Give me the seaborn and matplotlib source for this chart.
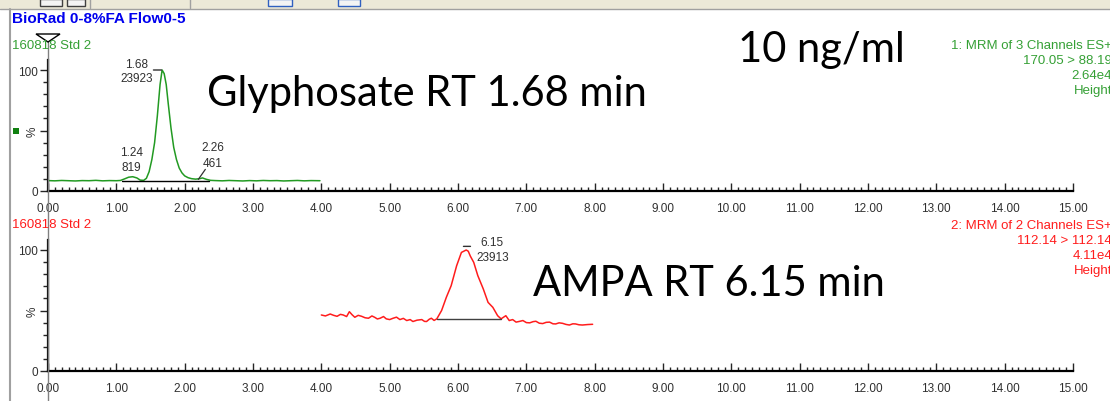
"""Glyphosate / AMPA MRM chromatograms (MassLynx-style screenshot), 10 ng/ml standard."""

import matplotlib
matplotlib.use('Agg')
import matplotlib.pyplot as plt
from matplotlib.patches import Rectangle, Polygon
from matplotlib.lines import Line2D
from matplotlib.ticker import MultipleLocator
import seaborn as sns

# Channel 1: glyphosate trace (time in min, relative intensity %)
gly_t = [0.00, 0.10, 0.20, 0.30, 0.40, 0.50, 0.60, 0.70, 0.80, 0.90,
         1.00, 1.06, 1.12, 1.18, 1.24, 1.30, 1.35, 1.40, 1.44, 1.48,
         1.52, 1.56, 1.60, 1.64, 1.67, 1.70, 1.73, 1.76, 1.80, 1.84,
         1.88, 1.92, 1.96, 2.00, 2.05, 2.10, 2.16, 2.22, 2.26, 2.32,
         2.38, 2.45, 2.55, 2.65, 2.75, 2.85, 2.95, 3.05, 3.15, 3.25,
         3.35, 3.45, 3.55, 3.65, 3.75, 3.85, 3.98]
gly_y = [8.6, 8.4, 8.7, 8.5, 8.3, 8.6, 8.5, 8.8, 8.4, 8.6,
         8.5, 8.7, 10.0, 11.4, 11.8, 10.8, 9.0, 8.8, 10.5, 16.0,
         26.0, 40.0, 62.0, 88.0, 100.0, 97.0, 88.0, 72.0, 52.0, 36.0,
         26.0, 19.0, 15.0, 12.5, 11.0, 10.2, 9.8, 10.2, 10.8, 9.6,
         8.8, 8.6, 8.4, 8.7, 8.5, 8.3, 8.6, 8.4, 8.7, 8.5,
         8.6, 8.3, 8.5, 8.7, 8.4, 8.6, 8.5]
gly_base_t = [1.08, 2.36]
gly_base_y = [8.4, 8.4]
gly_peak_t = [1.24, 1.68, 2.26]
gly_peak_h = [11.8, 100.0, 10.8]
gly_peak_area = [819, 23923, 461]

# Channel 2: AMPA trace
ampa_t = [4.00, 4.06, 4.13, 4.18, 4.23, 4.28, 4.32, 4.37, 4.41, 4.45,
          4.49, 4.54, 4.59, 4.64, 4.69, 4.74, 4.78, 4.82, 4.86, 4.91,
          4.95, 5.00, 5.05, 5.10, 5.15, 5.20, 5.25, 5.30, 5.34, 5.40,
          5.47, 5.51, 5.54, 5.58, 5.61, 5.65, 5.69, 5.76, 5.83, 5.90,
          5.98, 6.05, 6.12, 6.15, 6.18, 6.23, 6.29, 6.37, 6.44, 6.51,
          6.58, 6.63, 6.70, 6.75, 6.80, 6.85, 6.90, 6.95, 7.00, 7.05,
          7.10, 7.14, 7.19, 7.24, 7.29, 7.34, 7.39, 7.43, 7.48, 7.53,
          7.58, 7.63, 7.68, 7.72, 7.77, 7.82, 7.90, 7.97]
ampa_y = [46.3, 45.5, 47.1, 46.0, 45.2, 46.8, 46.3, 45.0, 49.0, 46.5,
          44.4, 46.0, 45.2, 44.0, 43.6, 45.5, 44.4, 43.0, 43.6, 45.0,
          43.1, 42.5, 43.6, 44.5, 42.5, 43.5, 41.7, 42.5, 40.9, 42.0,
          42.5, 41.0, 40.9, 42.8, 43.6, 41.8, 43.1, 50.0, 61.0, 70.5,
          87.0, 98.0, 100.0, 99.0, 95.0, 89.8, 78.8, 67.8, 56.7, 52.6,
          45.7, 43.1, 45.7, 41.7, 42.5, 40.4, 41.0, 41.7, 40.0, 39.8,
          40.8, 41.1, 39.5, 39.2, 40.2, 40.4, 39.0, 38.9, 39.8, 39.4,
          38.5, 38.0, 39.0, 38.9, 38.2, 38.0, 38.4, 38.6]
ampa_base_t = [5.69, 6.63]
ampa_base_y = [43.1, 43.1]
ampa_peak_t = [6.15]
ampa_peak_h = [100.0]
ampa_peak_area = [23913]

GREEN = '#229a22'
GREEN_TXT = '#35a035'
RED = '#ff1c1c'
TXT = '#303030'

sns.set_theme(style='white')
plt.rcParams['font.family'] = ['Liberation Sans', 'DejaVu Sans']

W, H = 1110, 402
fig = plt.figure(figsize=(W / 100, H / 100), dpi=100, facecolor='white')


def fx(px):
    return px / W


def fy(py):
    return 1 - py / H


YMAX = 108
AX_H = 121 * YMAX / 100 / H
ax_top = fig.add_axes([fx(48), fy(192), fx(1073) - fx(48), AX_H])
ax_bot = fig.add_axes([fx(48), fy(372), fx(1073) - fx(48), AX_H])


def style(ax):
    ax.set_xlim(0, 15)
    ax.set_ylim(0, YMAX)
    ax.set_facecolor('none')
    for s in ['top', 'right']:
        ax.spines[s].set_visible(False)
    for s in ['left', 'bottom']:
        ax.spines[s].set_color('black')
        ax.spines[s].set_linewidth(1.6)
    ax.xaxis.set_major_locator(MultipleLocator(1))
    ax.xaxis.set_minor_locator(MultipleLocator(0.1))
    ax.xaxis.set_major_formatter('{x:.2f}')
    ax.set_yticks([0, 50, 100])
    ax.set_yticklabels(['0', '%', '100'])
    ax.yaxis.set_minor_locator(MultipleLocator(10))
    ax.tick_params(axis='x', which='major', bottom=True, direction='in', length=6,
                   width=1, labelsize=8.5, labelcolor=TXT, pad=8)
    ax.tick_params(axis='x', which='minor', bottom=True, direction='in', length=3, width=1)
    ax.tick_params(axis='y', which='major', left=True, direction='out', length=6,
                   width=1, labelsize=8.5, labelcolor=TXT, pad=1)
    ax.tick_params(axis='y', which='minor', left=True, direction='out', length=3.5, width=1)
    lab = ax.get_yticklabels()[1]
    lab.set_rotation(90)
    lab.set_va('center')
    ax.grid(False)


def peak_labels(ax, ts, hs, areas, offs, ha='center'):
    for t, h, a, (dx, dy1, dx2, dy2) in zip(ts, hs, areas, offs):
        ax.annotate(f'{t:.2f}', (t, h), xytext=(dx, dy1), textcoords='offset pixels',
                    ha=ha, va='center', fontsize=8.5, color=TXT)
        ax.annotate(f'{a}', (t, h), xytext=(dx2, dy2), textcoords='offset pixels',
                    ha=ha, va='center', fontsize=8.5, color=TXT)


# traces
sns.lineplot(x=gly_t, y=gly_y, ax=ax_top, color=GREEN, lw=1.1, sort=False, estimator=None)
ax_top.plot(gly_base_t, gly_base_y, color='black', lw=1)
sns.lineplot(x=ampa_t, y=ampa_y, ax=ax_bot, color=RED, lw=1.1, sort=False, estimator=None)
ax_bot.plot(ampa_base_t, ampa_base_y, color='#404040', lw=1)

for ax in (ax_top, ax_bot):
    style(ax)

peak_labels(ax_top, gly_peak_t, gly_peak_h, gly_peak_area,
            [(-1, 25, -1, 10), (-26, 6, -26, -8), (10, 31, 10, 15)])
peak_labels(ax_bot, ampa_peak_t, ampa_peak_h, ampa_peak_area,
            [(12, 8, 8, -7)], ha='left')

# small apex marks and leader for the 2.26 label
ax_top.annotate('', (1.66, 100), xytext=(-8, 0), textcoords='offset pixels',
                arrowprops=dict(arrowstyle='-', color=TXT, lw=1, shrinkA=0, shrinkB=0))
ax_top.annotate('', (2.20, 9.6), xytext=(7, 10), textcoords='offset pixels',
                arrowprops=dict(arrowstyle='-', color=TXT, lw=0.9, shrinkA=0, shrinkB=0))
ax_bot.annotate('', (6.08, 103), xytext=(7, 0), textcoords='offset pixels',
                arrowprops=dict(arrowstyle='-', color=TXT, lw=1, shrinkA=0, shrinkB=0))

# window chrome: toolbar strip, left frame, cursor
fig.patches.append(Rectangle((0, fy(10)), 1, 10 / H, transform=fig.transFigure,
                             facecolor='#ece9d8', edgecolor='none', zorder=0))
fig.lines.append(Line2D([0, 1], [fy(10), fy(10)], transform=fig.transFigure,
                        color='#a0a0a0', lw=1))
for x0, x1, ec in [(40, 62, '#404040'), (67, 85, '#404040'), (268, 292, '#3060c0'),
                   (338, 360, '#3060c0')]:
    fig.patches.append(Rectangle((fx(x0), fy(7)), (x1 - x0) / W, 7 / H,
                                 transform=fig.transFigure, facecolor='#f4f4f4',
                                 edgecolor=ec, lw=1))
for xs in (90, 190):
    fig.lines.append(Line2D([fx(xs), fx(xs)], [fy(0), fy(9)], transform=fig.transFigure,
                            color='#a0a0a0', lw=1))
fig.lines.append(Line2D([fx(10), fx(10)], [fy(10), 0], transform=fig.transFigure,
                        color='#a0a0a0', lw=1.5))
fig.lines.append(Line2D([fx(48), fx(48)], [fy(43), 0], transform=fig.transFigure,
                        color='#808080', lw=1, zorder=1))
fig.patches.append(Polygon([(fx(36), fy(35)), (fx(60), fy(35)), (fx(48), fy(43))],
                           closed=True, transform=fig.transFigure, facecolor='white',
                           edgecolor='black', lw=1))

# header texts
fig.text(fx(12), fy(19), 'BioRad 0-8%FA Flow0-5', color='#0000ee', fontsize=11,
         fontweight='bold', va='center', ha='left')
fig.text(fx(12), fy(46), '160818 Std 2', color=GREEN_TXT, fontsize=9.5, va='center')
fig.text(fx(12), fy(225), '160818 Std 2', color=RED, fontsize=9.5, va='center')
fig.text(fx(12), fy(407), '160818 Std 2', color=RED, fontsize=9.5, va='center')
fig.patches.append(Rectangle((fx(13), fy(135)), 6 / W, 6 / H, transform=fig.transFigure,
                             facecolor='#108010', edgecolor='none'))

for i, s in enumerate(['1: MRM of 3 Channels ES+', '170.05 > 88.19', '2.64e4', 'Height']):
    fig.text(fx(1112), fy(46 + 15 * i), s, color=GREEN_TXT, fontsize=9.5, ha='right', va='center')
for i, s in enumerate(['2: MRM of 2 Channels ES+', '112.14 > 112.14', '4.11e4', 'Height']):
    fig.text(fx(1112), fy(226 + 15 * i), s, color=RED, fontsize=9.5, ha='right', va='center')
fig.text(fx(1112), fy(407), '3: MRM of 3 Channels ES+', color=RED, fontsize=9.5,
         ha='right', va='center')

# slide annotations
BIG = dict(family=['Lato', 'DejaVu Sans'], fontsize=30, color='black', va='baseline', ha='left')
fig.text(fx(207), fy(106), 'Glyphosate RT 1.68 min', **BIG)
fig.text(fx(738), fy(62), '10 ng/ml', **BIG)
fig.text(fx(533), fy(296), 'AMPA RT 6.15 min', **BIG)

fig.savefig('out.png', dpi=100, facecolor='white')
